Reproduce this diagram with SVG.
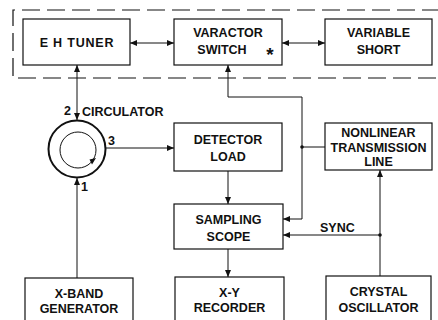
<svg xmlns="http://www.w3.org/2000/svg" width="438" height="320" viewBox="0 0 438 320">
<style>
.box{fill:#fff;stroke:#111;stroke-width:1.2}
.ln{fill:none;stroke:#111;stroke-width:1}
.t{font-family:"Liberation Sans",Arial,sans-serif;font-size:12.5px;font-weight:bold;fill:#111;text-anchor:middle}
.l{font-family:"Liberation Sans",Arial,sans-serif;font-size:12.5px;font-weight:bold;fill:#111}
</style>
<defs>
<marker id="ah" markerUnits="userSpaceOnUse" markerWidth="7" markerHeight="6" refX="7" refY="3" orient="auto-start-reverse">
<path d="M0,0 L7,3 L0,6 z" fill="#111"/>
</marker>
</defs>
<rect width="438" height="320" fill="#fff"/>
<path d="M440,10 H13 V78 H440" fill="none" stroke="#111" stroke-width="1.2" stroke-dasharray="18,7"/>
<g id="eh-tuner"><rect class="box" x="23" y="19" width="107" height="46"/><text class="t" x="77" y="47" letter-spacing="0.8">E H TUNER</text></g>
<g id="varactor-switch"><rect class="box" x="174" y="19" width="108" height="46"/><text class="t" x="228" y="37">VARACTOR</text><text class="t" x="222" y="54">SWITCH</text><text class="t" x="270" y="61" style="font-size:19px">*</text></g>
<g id="variable-short"><rect class="box" x="325" y="19" width="107" height="46"/><text class="t" x="378.5" y="37">VARIABLE</text><text class="t" x="378.5" y="54">SHORT</text></g>
<g id="circulator">
<circle cx="77" cy="149" r="28.5" fill="#fff" stroke="#111" stroke-width="2"/>
<circle cx="78" cy="150" r="18" fill="none" stroke="#111" stroke-width="1"/>
<path d="M89.5,159.5 L96,158 L92,164.5 z" fill="#111"/>
<text class="l" x="64" y="115">2</text>
<text class="l" x="82" y="116">CIRCULATOR</text>
<text class="l" x="108" y="145">3</text>
<text class="l" x="81" y="191">1</text>
</g>
<g id="detector-load"><rect class="box" x="174" y="123" width="108" height="48"/><text class="t" x="228" y="144">DETECTOR</text><text class="t" x="228" y="161">LOAD</text></g>
<g id="nonlinear-transmission-line"><rect class="box" x="325" y="123" width="107" height="47"/><text class="t" x="378.5" y="137">NONLINEAR</text><text class="t" x="378.5" y="152">TRANSMISSION</text><text class="t" x="378.5" y="166">LINE</text></g>
<g id="sampling-scope"><rect class="box" x="174" y="204" width="109" height="45"/><text class="t" x="228.5" y="224">SAMPLING</text><text class="t" x="228.5" y="241">SCOPE</text></g>
<g id="x-band-generator"><rect class="box" x="25" y="278" width="108" height="50"/><text class="t" x="79" y="298">X-BAND</text><text class="t" x="79" y="313">GENERATOR</text></g>
<g id="x-y-recorder"><rect class="box" x="175" y="277" width="109" height="50"/><text class="t" x="229.5" y="297">X-Y</text><text class="t" x="229.5" y="312">RECORDER</text></g>
<g id="crystal-oscillator"><rect class="box" x="326" y="276" width="105" height="50"/><text class="t" x="378.5" y="296">CRYSTAL</text><text class="t" x="378.5" y="312">OSCILLATOR</text></g>
<g id="connectors">
<line class="ln" x1="130" y1="43" x2="174" y2="43" marker-start="url(#ah)" marker-end="url(#ah)"/>
<line class="ln" x1="282" y1="43" x2="325" y2="43" marker-start="url(#ah)" marker-end="url(#ah)"/>
<line class="ln" x1="77" y1="65" x2="77" y2="120" marker-start="url(#ah)" marker-end="url(#ah)"/>
<line class="ln" x1="77" y1="278" x2="77" y2="178" marker-end="url(#ah)"/>
<line class="ln" x1="106" y1="148" x2="174" y2="148" marker-end="url(#ah)"/>
<line class="ln" x1="228" y1="171" x2="228" y2="204" marker-end="url(#ah)"/>
<line class="ln" x1="228" y1="249" x2="228" y2="277" marker-end="url(#ah)"/>
<path class="ln" d="M302,147 V97 H228 V65" marker-end="url(#ah)"/>
<path class="ln" d="M302,147 V219 H283" marker-end="url(#ah)"/>
<line class="ln" x1="302" y1="147" x2="325" y2="147"/>
<circle cx="302" cy="147" r="1.8" fill="#111"/>
<line class="ln" x1="380" y1="276" x2="380" y2="170" marker-end="url(#ah)"/>
<line class="ln" x1="380" y1="235" x2="283" y2="235" marker-end="url(#ah)"/>
<circle cx="380" cy="235" r="1.8" fill="#111"/>
<text class="l" x="320" y="232">SYNC</text>
</g>
</svg>
